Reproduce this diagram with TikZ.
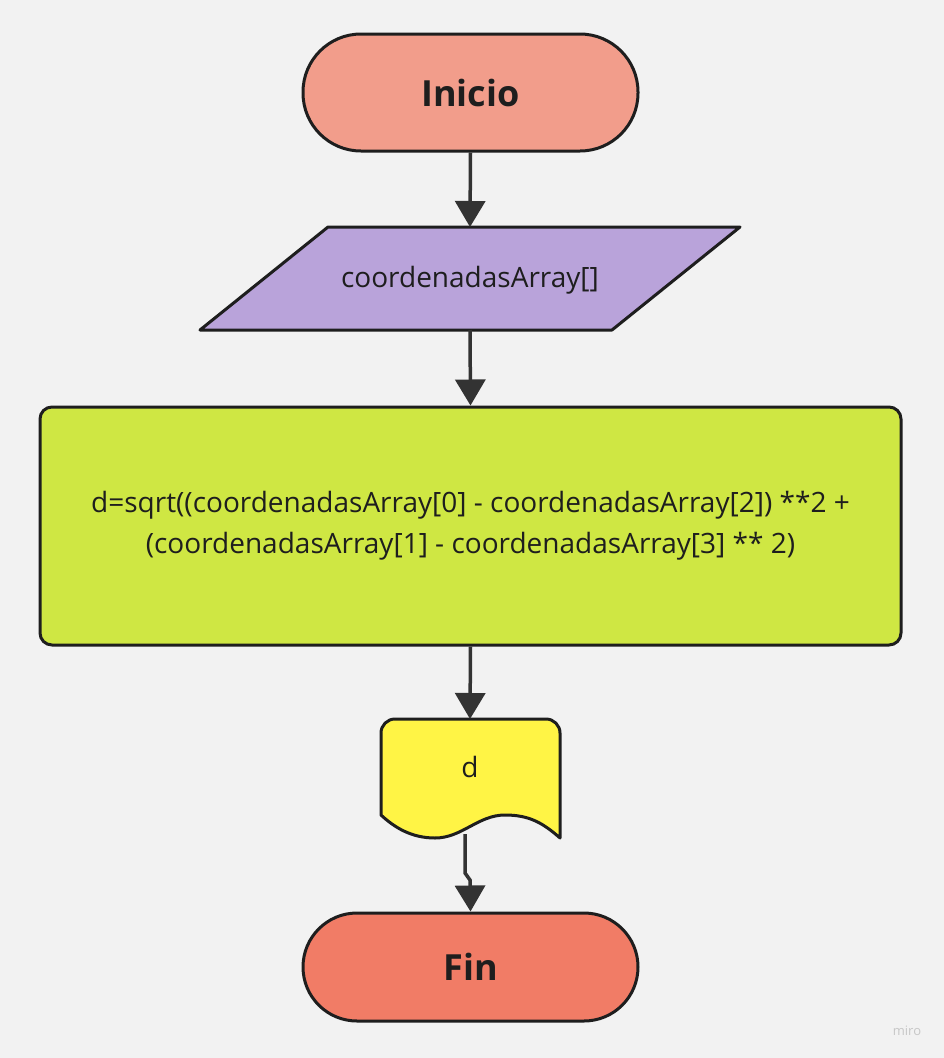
\documentclass[tikz,border=0pt]{standalone}
\usepackage{fontspec}
\setmainfont{Open Sans}
\usetikzlibrary{arrows.meta}
\definecolor{bg}{HTML}{F2F2F2}
\definecolor{edge}{HTML}{1E1E1E}
\definecolor{conn}{HTML}{333333}
\definecolor{startfill}{HTML}{F29D8B}
\definecolor{endfill}{HTML}{F17C66}
\definecolor{iofill}{HTML}{B9A3DA}
\definecolor{procfill}{HTML}{CFE743}
\definecolor{docfill}{HTML}{FFF445}
\definecolor{txt}{HTML}{1E1E1E}
\tikzset{
  terminal/.style={draw=edge, line width=3, minimum width=335, align=center, text=txt, font=\fontsize{36}{40}\selectfont\bfseries},
  shapeline/.style={draw=edge, line width=3, line join=round},
  proc/.style={draw=edge, line width=3, fill=procfill, rounded corners=12, minimum width=861, minimum height=238, align=center, text=txt, font=\fontsize{28}{41}\selectfont},
  plain/.style={text=txt, font=\fontsize{28}{32}\selectfont, inner sep=0},
  flow/.style={draw=conn, line width=3.5, -{Triangle[length=26,width=30]}},
}
\begin{document}
\begin{tikzpicture}[x=1pt,y=-1pt]
\fill[bg] (0,0) rectangle (944,1058);
\useasboundingbox (0,0) rectangle (944,1058);
% start
\node[terminal, fill=startfill, minimum height=117, rounded corners=58] (start) at (470.5,92.5) {Inicio};
% input parallelogram
\draw[shapeline, fill=iofill] (328,227) -- (740,227) -- (612,330) -- (200,330) -- cycle;
\coordinate (intop) at (470,227);
\coordinate (inbot) at (470,330);
\node[plain] (input) at (470,280) {coordenadasArray[]};
% process
\node[proc] (calc) at (470.5,526) {d=sqrt((coordenadasArray[0] - coordenadasArray[2]) **2 +\\(coordenadasArray[1] - coordenadasArray[3] ** 2)};
% document
\draw[shapeline, fill=docfill] (381,815) -- (381,733) arc[start angle=180, end angle=90, x radius=14, y radius=-14] -- (546,719) arc[start angle=90, end angle=0, x radius=14, y radius=-14] -- (560,838)
  .. controls (542,822) and (528,815) .. (505,815)
  .. controls (478,815) and (462,838) .. (435,838)
  .. controls (412,838) and (395,828) .. (381,815) -- cycle;
\coordinate (doctop) at (470,719);
\coordinate (docout) at (465,834);
\coordinate (jogA) at (465,873);
\coordinate (jogB) at (470,880);
\node[plain] (out) at (470,767) {d};
% end
\node[terminal, fill=endfill, minimum height=108, rounded corners=54] (end) at (470.5,967) {Fin};
% connectors
\draw[flow] (start.south) -- (intop);
\draw[flow] (inbot) -- (calc.north);
\draw[flow] (calc.south) -- (doctop);
\draw[flow] (docout) -- (jogA) -- (jogB) -- (end.north);
% watermark
\node[text=black!22, font=\fontsize{13}{14}\selectfont, inner sep=0] (miro) at (907,1031) {miro};
\end{tikzpicture}
\end{document}
